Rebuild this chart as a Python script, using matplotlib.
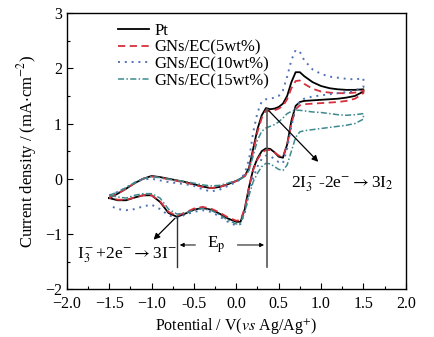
import numpy as np
import matplotlib
matplotlib.use('Agg')
import matplotlib.pyplot as plt
from matplotlib.ticker import MultipleLocator

plt.rcParams['font.family'] = ['Liberation Serif', 'DejaVu Serif']
plt.rcParams['mathtext.fontset'] = 'stix'
plt.rcParams['axes.unicode_minus'] = True

# 扫描电位 (正扫 / 回扫)
v_fwd = [-1.5, -1.4, -1.3, -1.2, -1.1, -1.0, -0.9, -0.8, -0.7, -0.6, -0.5, -0.4, -0.3,
         -0.2, -0.1, 0.0, 0.05, 0.1, 0.15, 0.2, 0.25, 0.3, 0.35, 0.4, 0.45, 0.5, 0.55,
         0.6, 0.65, 0.7, 0.75, 0.8, 0.9, 1.0, 1.1, 1.2, 1.3, 1.4, 1.5]
v_rev = [1.5, 1.4, 1.3, 1.2, 1.1, 1.0, 0.9, 0.8, 0.75, 0.7, 0.65, 0.6, 0.55, 0.5, 0.45,
         0.4, 0.35, 0.3, 0.25, 0.2, 0.15, 0.1, 0.05, 0.0, -0.1, -0.2, -0.3, -0.4, -0.5,
         -0.6, -0.7, -0.8, -0.9, -1.0, -1.1, -1.2, -1.3, -1.4, -1.5]

# Pt
pt_fwd = [-0.35, -0.27, -0.18, -0.08, 0.0, 0.05, 0.03, 0.0, -0.03, -0.06, -0.1, -0.14, -0.17,
          -0.15, -0.1, -0.04, 0.0, 0.05, 0.2, 0.55, 0.9, 1.15, 1.28, 1.26, 1.27, 1.3, 1.36,
          1.5, 1.75, 1.93, 1.93, 1.86, 1.75, 1.68, 1.64, 1.62, 1.61, 1.61, 1.62]
pt_rev = [1.58, 1.5, 1.47, 1.45, 1.44, 1.43, 1.42, 1.41, 1.39, 1.32, 1.05, 0.62, 0.38, 0.4,
          0.48, 0.54, 0.55, 0.5, 0.37, 0.18, -0.15, -0.55, -0.78, -0.78, -0.72, -0.63, -0.56,
          -0.53, -0.56, -0.63, -0.69, -0.62, -0.42, -0.3, -0.3, -0.34, -0.39, -0.39, -0.35]

# GNs/EC(5wt%)
g5_fwd = [-0.34, -0.27, -0.18, -0.08, 0.0, 0.04, 0.02, -0.01, -0.04, -0.07, -0.11, -0.15, -0.17,
          -0.15, -0.1, -0.04, 0.0, 0.05, 0.18, 0.5, 0.85, 1.1, 1.24, 1.22, 1.24, 1.27, 1.32,
          1.44, 1.64, 1.77, 1.78, 1.72, 1.63, 1.58, 1.56, 1.55, 1.55, 1.56, 1.6]
g5_rev = [1.55, 1.45, 1.41, 1.39, 1.38, 1.37, 1.36, 1.35, 1.33, 1.26, 1.0, 0.62, 0.4, 0.42,
          0.48, 0.52, 0.52, 0.47, 0.35, 0.16, -0.15, -0.53, -0.75, -0.76, -0.7, -0.61, -0.54,
          -0.51, -0.54, -0.61, -0.67, -0.6, -0.41, -0.3, -0.3, -0.34, -0.38, -0.38, -0.34]

# GNs/EC(10wt%)
g10_fwd = [-0.3, -0.24, -0.16, -0.07, -0.01, 0.0, -0.03, -0.06, -0.08, -0.1, -0.13, -0.19, -0.23,
           -0.2, -0.13, -0.06, -0.01, 0.1, 0.35, 0.85, 1.2, 1.4, 1.44, 1.45, 1.47, 1.5, 1.6,
           1.85, 2.15, 2.33, 2.3, 2.15, 1.98, 1.9, 1.85, 1.83, 1.81, 1.8, 1.82]
g10_rev = [1.66, 1.6, 1.57, 1.55, 1.53, 1.51, 1.49, 1.45, 1.4, 1.28, 0.95, 0.55, 0.28, 0.3,
           0.36, 0.41, 0.42, 0.36, 0.22, 0.02, -0.25, -0.62, -0.82, -0.85, -0.78, -0.68, -0.6,
           -0.57, -0.6, -0.65, -0.71, -0.66, -0.55, -0.47, -0.5, -0.55, -0.57, -0.55, -0.48]

# GNs/EC(15wt%)
g15_fwd = [-0.3, -0.24, -0.16, -0.07, 0.0, 0.04, 0.02, -0.01, -0.03, -0.05, -0.08, -0.11, -0.13,
           -0.12, -0.08, -0.03, 0.0, 0.04, 0.15, 0.42, 0.7, 0.86, 0.92, 0.95, 0.98, 1.03, 1.1,
           1.18, 1.22, 1.24, 1.24, 1.23, 1.21, 1.2, 1.18, 1.16, 1.15, 1.16, 1.18]
g15_rev = [1.08, 1.0, 0.97, 0.95, 0.93, 0.91, 0.89, 0.87, 0.85, 0.75, 0.5, 0.25, 0.15, 0.17,
           0.22, 0.27, 0.28, 0.22, 0.1, -0.05, -0.3, -0.6, -0.8, -0.82, -0.75, -0.65, -0.57,
           -0.54, -0.57, -0.62, -0.64, -0.55, -0.35, -0.27, -0.27, -0.3, -0.35, -0.33, -0.3]

labels = ['Pt', 'GNs/EC(5wt%)', 'GNs/EC(10wt%)', 'GNs/EC(15wt%)']
xtick_labels = ['\u22122.0', '\u22121.5', '\u22121.0', '-0.5', '0.0', '0.5', '1.0', '1.5', '2.0']

fig = plt.figure(figsize=(4.34, 3.37), dpi=100)
ax = fig.add_axes([0.154, 0.142, 0.781, 0.819])

v_all = v_fwd + v_rev
ax.plot(v_all, pt_fwd + pt_rev, color='black', lw=1.3, ls='-', label=labels[0])
ax.plot(v_all, g5_fwd + g5_rev, color='#d6303c', lw=1.3, ls=(0, (4, 2.5)), label=labels[1])
ax.plot(v_all, g10_fwd + g10_rev, color='#4f74b5', lw=1.4, ls=(0, (1, 2.5)), label=labels[2])
ax.plot(v_all, g15_fwd + g15_rev, color='#3d8a8e', lw=1.1, ls=(0, (4, 1.5, 1, 1.5)), label=labels[3])

# 氧化/还原峰的标注
ep_ox = 0.36
ep_red = -0.7
ax.plot([ep_red, ep_red], [-0.68, -1.6], color='#333333', lw=1.0)
ax.plot([ep_ox, ep_ox], [1.27, -1.6], color='#555555', lw=1.2)
ax.annotate('', xy=(ep_red, -1.2), xytext=(-0.45, -1.2),
            arrowprops=dict(arrowstyle='-|>', color='black', lw=0.7, mutation_scale=6))
ax.annotate('', xy=(ep_ox, -1.2), xytext=(-0.02, -1.2),
            arrowprops=dict(arrowstyle='-|>', color='black', lw=0.7, mutation_scale=6))
ax.text(-0.24, -1.2, r'E$_\mathrm{p}$', fontsize=12.5, ha='center', va='center')

ax.annotate('', xy=(-1.0, -1.14), xytext=(ep_red, -0.68),
            arrowprops=dict(arrowstyle='-|>', color='black', lw=0.9, mutation_scale=9))
ax.text(-1.29, -1.39, r'I$_3^-$+2e$^{-}$$\rightarrow$3I$^{-}$', fontsize=12.5,
        ha='center', va='center')

ax.annotate('', xy=(0.99, 0.27), xytext=(ep_ox, 1.27),
            arrowprops=dict(arrowstyle='-|>', color='black', lw=0.9, mutation_scale=9))
ax.text(1.25, -0.1, r'2I$_3^-$-2e$^{-}$$\rightarrow$3I$_2$', fontsize=12.5,
        ha='center', va='center')

ax.set_xlim(-2.0, 2.0)
ax.set_ylim(-2, 3)
ax.set_xticks(np.arange(-2.0, 2.01, 0.5))
ax.set_xticklabels(xtick_labels)
ax.xaxis.set_minor_locator(MultipleLocator(0.25))
ax.yaxis.set_major_locator(MultipleLocator(1))
ax.yaxis.set_minor_locator(MultipleLocator(0.5))
ax.tick_params(which='both', direction='in', top=False, right=False, labelsize=11.5)
ax.tick_params(axis='x', pad=5)
ax.tick_params(which='major', length=4, width=0.8)
ax.tick_params(which='minor', length=2, width=0.8)
for s in ax.spines.values():
    s.set_linewidth(1.0)

ax.set_xlabel(r'Potential / V($vs$ Ag/Ag$^{+}$)', fontsize=11.5, labelpad=3)
ax.set_ylabel(r'Current density / (mA$\cdot$cm$^{-2}$)', fontsize=12, labelpad=4)

ax.legend(loc='upper left', bbox_to_anchor=(0.13, 0.99), frameon=False, fontsize=12,
          handlelength=1.9, handletextpad=0.3, labelspacing=0.05, borderaxespad=0)

fig.savefig('out.png', dpi=100)
